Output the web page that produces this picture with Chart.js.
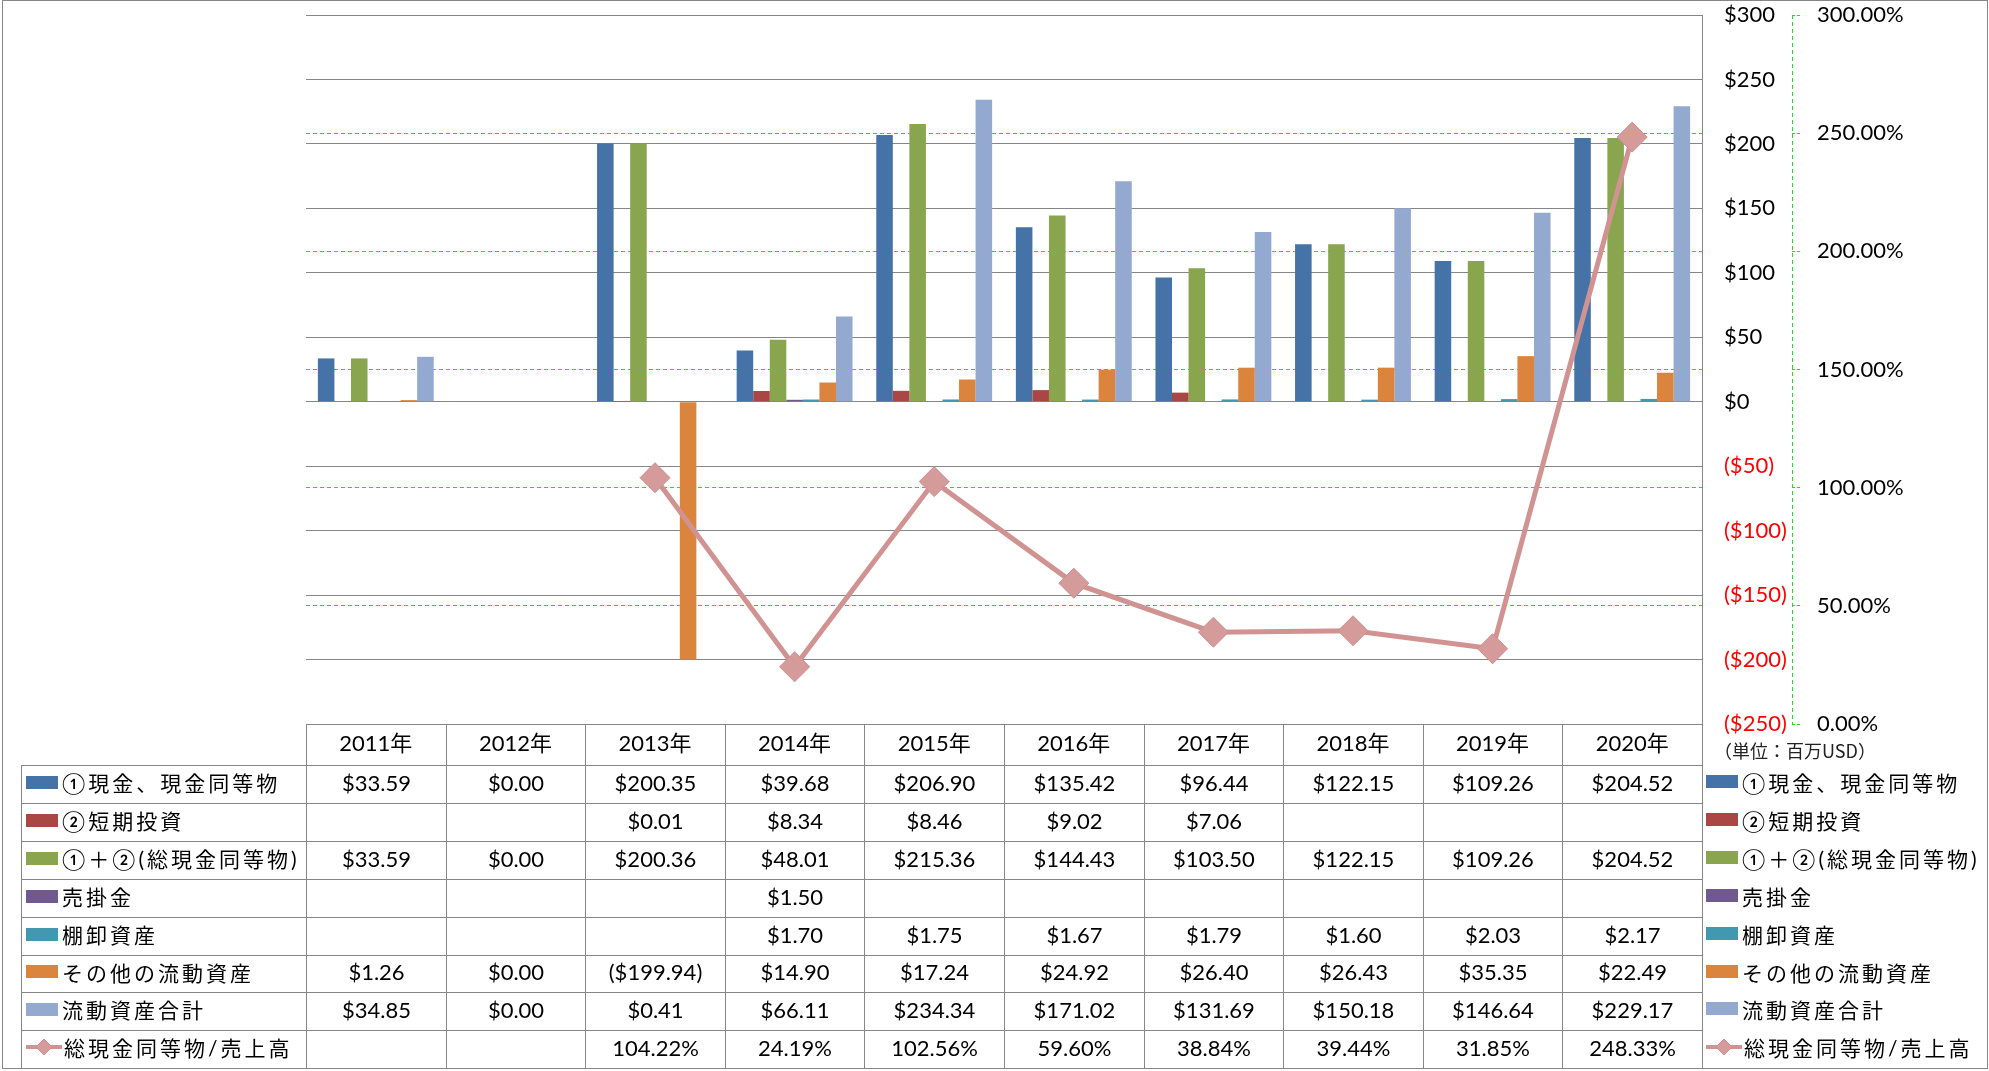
<!DOCTYPE html>
<html>
<head>
<meta charset="utf-8">
<script src="https://cdn.jsdelivr.net/npm/chart.js@4.4.0/dist/chart.umd.min.js"></script>
<style>
html, body { margin: 0; padding: 0; background: #fff; }
#wrap { position: relative; width: 1989px; height: 1071px; overflow: hidden; }
#chart { position: absolute; left: 0; top: 0; }
#frame { position: absolute; left: 2px; top: 0; width: 1986px; height: 1069px; border: 1px solid #868686; box-sizing: border-box; pointer-events: none; }
#grid { position: absolute; left: 0; top: 0; width: 1989px; height: 1071px; font-family: Lato, "Noto Sans CJK JP", sans-serif; font-size: 22px; color: #000; }
.cell { position: absolute; box-sizing: border-box; display: flex; align-items: center; justify-content: center; white-space: nowrap; border-top: 1px solid #868686; border-left: 1px solid #868686; padding-bottom: 5px; }
.lab { justify-content: flex-start; padding-left: 4px; font-size: 21px; letter-spacing: 3px; }
.leg { position: absolute; display: flex; align-items: center; white-space: nowrap; font-size: 21px; letter-spacing: 3px; box-sizing: border-box; padding-bottom: 5px; }
.sw { display: inline-block; width: 32px; height: 13px; margin-right: 4px; flex: none; }
.unit { position: absolute; font-family: "Noto Sans CJK JP", sans-serif; font-size: 18px; color: #222; white-space: nowrap; }
</style>
</head>
<body>
<div id="wrap">
  <canvas id="chart" width="1989" height="1071"></canvas>
  <div id="grid"></div>
  <div id="frame"></div>
</div>
<script>
const years = ["2011年", "2012年", "2013年", "2014年", "2015年", "2016年", "2017年", "2018年", "2019年", "2020年"];

// 単位: 百万USD
const cashEq = [33.59, 0.00, 200.35, 39.68, 206.90, 135.42, 96.44, 122.15, 109.26, 204.52];
const shortInv = [null, null, 0.01, 8.34, 8.46, 9.02, 7.06, null, null, null];
const totalCash = [33.59, 0.00, 200.36, 48.01, 215.36, 144.43, 103.50, 122.15, 109.26, 204.52];
const receivables = [null, null, null, 1.50, null, null, null, null, null, null];
const inventory = [null, null, null, 1.70, 1.75, 1.67, 1.79, 1.60, 2.03, 2.17];
const otherCurrent = [1.26, 0.00, -199.94, 14.90, 17.24, 24.92, 26.40, 26.43, 35.35, 22.49];
const totalCurrent = [34.85, 0.00, 0.41, 66.11, 234.34, 171.02, 131.69, 150.18, 146.64, 229.17];
// %
const cashToSales = [null, null, 104.22, 24.19, 102.56, 59.60, 38.84, 39.44, 31.85, 248.33];

const seriesNames = ["①現金、現金同等物", "②短期投資", "①＋②(総現金同等物)", "売掛金", "棚卸資産", "その他の流動資産", "流動資産合計", "総現金同等物/売上高"];
const seriesColors = ["#4572A7", "#AA4643", "#89A54E", "#71588F", "#4198AF", "#DB843D", "#93A9CF", "#D19392"];
const barSeries = [cashEq, shortInv, totalCash, receivables, inventory, otherCurrent, totalCurrent];

const FONT = "Lato, 'Noto Sans CJK JP', sans-serif";
const gridGray = "#868686";
const green = "#22DD22";

// where the plot area should sit on the page
const PLOT = { left: 306, top: 15, right: 1702, bottom: 724 };

function money(v) {
    if (v === null || v === undefined) return "";
    if (v < 0) return "($" + Math.abs(v).toFixed(2) + ")";
    return "$" + v.toFixed(2);
}
function pct(v) {
    if (v === null || v === undefined) return "";
    return v.toFixed(2) + "%";
}

// dashed green line for the secondary axis
const axisLinePlugin = {
    id: "axisLine",
    afterDraw(c) {
        const s = c.scales.y1;
        const ctx = c.ctx;
        const x = Math.round(s.left) + 0.5;
        ctx.save();
        ctx.strokeStyle = green;
        ctx.lineWidth = 1;
        ctx.setLineDash([4, 3]);
        ctx.beginPath();
        ctx.moveTo(x, s.top);
        ctx.lineTo(x, s.bottom);
        ctx.stroke();
        ctx.restore();
    }
};

const datasets = [
    {
        type: "line",
        label: seriesNames[7],
        data: cashToSales,
        yAxisID: "y1",
        order: 0,
        borderColor: seriesColors[7],
        borderWidth: 5,
        tension: 0,
        pointStyle: "rectRot",
        pointRadius: 15,
        pointBackgroundColor: "#D59B9A",
        pointBorderColor: "#CF8E8D",
        pointBorderWidth: 1,
        spanGaps: false
    }
];
barSeries.forEach((arr, i) => {
    datasets.push({
        type: "bar",
        label: seriesNames[i],
        data: arr,
        yAxisID: "y",
        order: 1,
        backgroundColor: seriesColors[i],
        borderWidth: 0,
        barPercentage: 1.0,
        categoryPercentage: 0.83
    });
});

const chart = new Chart(document.getElementById("chart"), {
    data: { labels: years, datasets: datasets },
    plugins: [axisLinePlugin],
    options: {
        responsive: false,
        animation: false,
        devicePixelRatio: 1,
        layout: { autoPadding: false, padding: { left: 306, top: 15, right: 7, bottom: 306 } },
        plugins: {
            legend: { display: false },
            tooltip: { enabled: false }
        },
        scales: {
            x: {
                grid: { display: false, drawTicks: false },
                border: { display: false },
                ticks: { color: "#000", font: { family: FONT, size: 22 }, padding: 7, maxRotation: 0 },
                afterFit(s) { s.height = 41; }
            },
            y: {
                position: "right",
                min: -250,
                max: 300,
                ticks: {
                    stepSize: 50,
                    padding: 22,
                    font: { family: FONT, size: 22 },
                    color: (ctx) => (ctx.tick && ctx.tick.value < 0 ? "#FF0000" : "#000"),
                    callback: (v) => (v < 0 ? "($" + Math.abs(v) + ")" : "$" + v)
                },
                grid: { color: gridGray, lineWidth: 1, drawTicks: false },
                border: { display: true, color: gridGray, width: 1 },
                afterFit(s) { s.width = 90; s.paddingTop = 0; s.paddingBottom = 0; }
            },
            y1: {
                position: "right",
                min: 0,
                max: 300,
                ticks: {
                    stepSize: 50,
                    padding: 17,
                    color: "#000",
                    font: { family: FONT, size: 22 },
                    callback: (v) => v.toFixed(2) + "%"
                },
                grid: {
                    // no green line over the top and bottom gray gridlines
                    color: (ctx) => (ctx.tick && (ctx.tick.value === 0 || ctx.tick.value === 300) ? "rgba(0,0,0,0)" : green),
                    lineWidth: 1,
                    drawTicks: true,
                    tickLength: 8,
                    tickColor: green,
                    tickBorderDash: [3, 2]
                },
                border: { display: false, dash: [4, 3] },
                afterFit(s) { s.width = 190; s.paddingTop = 0; s.paddingBottom = 0; }
            }
        }
    }
});

// nudge the padding so the plot area lands where the reference has it
const pad = chart.options.layout.padding;
const area0 = chart.chartArea;
const dTop = Math.round(area0.top - PLOT.top);
const dBottom = Math.round(area0.bottom - PLOT.bottom);
const dLeft = Math.round(area0.left - PLOT.left);
const dRight = Math.round(area0.right - PLOT.right);
if (dTop || dBottom || dLeft || dRight) {
    pad.top -= dTop;
    pad.bottom += dBottom;
    pad.left -= dLeft;
    pad.right += dRight;
    chart.update();
}

// data table under the plot, columns follow the x scale
function buildTable() {
    const area = chart.chartArea;
    const grid = document.getElementById("grid");
    const n = years.length;
    const colW = (area.right - area.left) / n;
    const tableLeft = 21;
    const top0 = Math.round(area.bottom);
    const headH = 41;
    const rowH = 37.9;
    const rows = [
        barSeries[0].map(money), barSeries[1].map(money), barSeries[2].map(money),
        barSeries[3].map(money), barSeries[4].map(money), barSeries[5].map(money),
        barSeries[6].map(money), cashToSales.map(pct)
    ];
    let html = "";

    function cell(x1, y1, x2, y2, content, cls, extra) {
        const l = Math.round(x1), t = Math.round(y1);
        const w = Math.round(x2) - l, h = Math.round(y2) - t;
        return '<div class="cell ' + (cls || "") + '" style="left:' + l + 'px;top:' + t + 'px;width:' + w + 'px;height:' + h + 'px;' + (extra || "") + '">' + content + '</div>';
    }
    function swatch(i) {
        if (i === 7) {
            return '<svg width="36" height="20" style="margin-right:2px;flex:none" viewBox="0 0 36 20">' +
                '<line x1="0" y1="10" x2="36" y2="10" stroke="' + seriesColors[7] + '" stroke-width="4"/>' +
                '<polygon points="18,2 26,10 18,18 10,10" fill="#D59B9A" stroke="#CF8E8D" stroke-width="1"/></svg>';
        }
        return '<span class="sw" style="background:' + seriesColors[i] + '"></span>';
    }

    // header row (labels come from the x axis)
    for (let c = 0; c < n; c++) {
        const extra = c === n - 1 ? "border-right:1px solid " + gridGray + ";" : "";
        html += cell(area.left + c * colW, top0, area.left + (c + 1) * colW + (c === n - 1 ? 1 : 0), top0 + headH, "", "", extra);
    }

    rows.forEach((r, ri) => {
        const y1 = top0 + headH + ri * rowH;
        const y2 = y1 + rowH;
        const last = ri === rows.length - 1;
        const bb = last ? "border-bottom:1px solid " + gridGray + ";" : "";
        html += cell(tableLeft, y1, area.left, y2 + (last ? 1 : 0), swatch(ri) + "<span>" + seriesNames[ri] + "</span>", "lab", bb);
        for (let c = 0; c < n; c++) {
            let extra = bb;
            if (c === n - 1) extra += "border-right:1px solid " + gridGray + ";";
            html += cell(area.left + c * colW, y1, area.left + (c + 1) * colW + (c === n - 1 ? 1 : 0), y2 + (last ? 1 : 0), r[c], "", extra);
        }
        // right legend
        html += '<div class="leg" style="left:' + Math.round(area.right + 4) + 'px;top:' + Math.round(y1) + 'px;height:' + Math.round(rowH) + 'px;">' +
            swatch(ri) + "<span>" + seriesNames[ri] + "</span></div>";
    });

    html += '<div class="unit" style="left:' + Math.round(area.right + 12) + 'px;top:' + (top0 + 13) + 'px;">（単位：百万USD）</div>';
    grid.innerHTML = html;
}

buildTable();
</script>
</body>
</html>
